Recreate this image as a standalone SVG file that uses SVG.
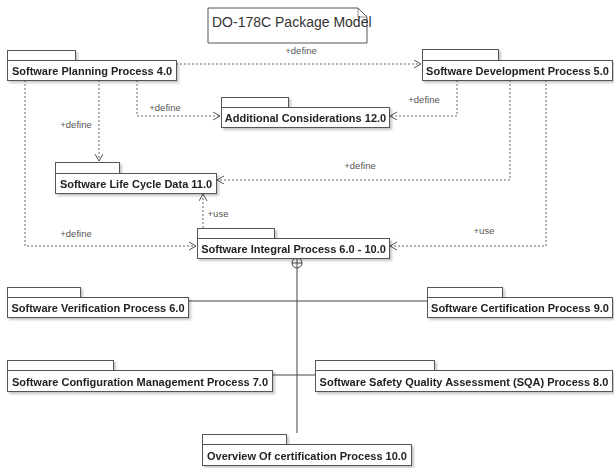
<svg xmlns="http://www.w3.org/2000/svg" width="614" height="468" viewBox="0 0 614 468">
<defs>
<filter id="sh" x="-5%" y="-20%" width="115%" height="160%">
<feDropShadow dx="2" dy="2" stdDeviation="1" flood-color="#000" flood-opacity="0.22"/>
</filter>
<marker id="open" markerWidth="10" markerHeight="10" refX="7" refY="4" orient="auto" markerUnits="userSpaceOnUse">
<path d="M0,0 L7,4 L0,8" fill="none" stroke="#555" stroke-width="1"/>
</marker>
</defs>
<style>
.pk{fill:#fff;stroke:#555;stroke-width:1}
.nm{font-family:"Liberation Sans",Arial,sans-serif;font-size:11px;font-weight:bold;fill:#222;text-anchor:middle}
.dep{fill:none;stroke:#666;stroke-width:1;stroke-dasharray:2,2;marker-end:url(#open)}
.lbl{font-family:"Liberation Sans",Arial,sans-serif;font-size:9.5px;fill:#555;text-anchor:middle}
.sol{fill:none;stroke:#444;stroke-width:1}
</style>
<rect width="614" height="468" fill="#fff"/>

<g id="note">
<path class="pk" d="M208,8 H358 L367,17 V43 H208 Z"/>
<path d="M358,8 V17 H367" fill="none" stroke="#777" stroke-width="0.8"/>
<text x="212" y="27" font-family="Liberation Sans, Arial, sans-serif" font-size="14" fill="#333">DO-178C Package Model</text>
</g>

<g id="connectors">
<path class="dep" d="M176,64 H421"/>
<path class="dep" d="M137,80 V116 H220"/>
<path class="dep" d="M457,80 V116 H390"/>
<path class="dep" d="M99,80 V161"/>
<path class="dep" d="M510,80 V180 H217"/>
<path class="dep" d="M25,80 V246 H196"/>
<path class="dep" d="M546,80 V246 H390"/>
<path class="dep" d="M203,228 V194"/>
<circle cx="297" cy="263" r="5" fill="#fff" stroke="#444" stroke-width="1"/>
<path class="sol" d="M292,263 H302 M297,258 V268"/>
<path class="sol" d="M297,268 V433"/>
<path class="sol" d="M188,301 H427"/>
<path class="sol" d="M273,375 H315"/>
<text class="lbl" x="301" y="54">+define</text>
<text class="lbl" x="165" y="111">+define</text>
<text class="lbl" x="424" y="103">+define</text>
<text class="lbl" x="76" y="128">+define</text>
<text class="lbl" x="360" y="169">+define</text>
<text class="lbl" x="76" y="237">+define</text>
<text class="lbl" x="484" y="234">+use</text>
<text class="lbl" x="218" y="217">+use</text>
</g>

<g id="planning" filter="url(#sh)">
<rect class="pk" x="7.5" y="50.5" width="68" height="10"/>
<rect class="pk" x="7.5" y="60.5" width="169" height="20"/>
<text class="nm" x="92" y="75">Software Planning Process 4.0</text>
</g>

<g id="development" filter="url(#sh)">
<rect class="pk" x="422.5" y="49.5" width="76" height="11"/>
<rect class="pk" x="422.5" y="60.5" width="190" height="20"/>
<text class="nm" x="517.5" y="75">Software Development Process 5.0</text>
</g>

<g id="additional" filter="url(#sh)">
<rect class="pk" x="221.5" y="97.5" width="67" height="10"/>
<rect class="pk" x="221.5" y="107.5" width="168" height="20"/>
<text class="nm" x="305.5" y="122">Additional Considerations 12.0</text>
</g>

<g id="lifecycle" filter="url(#sh)">
<rect class="pk" x="55.5" y="162.5" width="64" height="11"/>
<rect class="pk" x="55.5" y="173.5" width="161" height="20"/>
<text class="nm" x="136" y="188">Software Life Cycle Data 11.0</text>
</g>

<g id="integral" filter="url(#sh)">
<rect class="pk" x="197.5" y="228.5" width="77" height="10"/>
<rect class="pk" x="197.5" y="238.5" width="192" height="20"/>
<text class="nm" x="293.5" y="253">Software Integral Process 6.0 - 10.0</text>
</g>

<g id="verification" filter="url(#sh)">
<rect class="pk" x="7.5" y="287.5" width="73" height="10"/>
<rect class="pk" x="7.5" y="297.5" width="181" height="20"/>
<text class="nm" x="98" y="312">Software Verification Process 6.0</text>
</g>

<g id="certification" filter="url(#sh)">
<rect class="pk" x="427.5" y="287.5" width="75" height="10"/>
<rect class="pk" x="427.5" y="297.5" width="185" height="20"/>
<text class="nm" x="520" y="312">Software Certification Process 9.0</text>
</g>

<g id="configuration" filter="url(#sh)">
<rect class="pk" x="7.5" y="360.5" width="106" height="10"/>
<rect class="pk" x="7.5" y="370.5" width="265" height="21"/>
<text class="nm" x="140" y="385.5">Software Configuration Management Process 7.0</text>
</g>

<g id="sqa" filter="url(#sh)">
<rect class="pk" x="315.5" y="360.5" width="119" height="10"/>
<rect class="pk" x="315.5" y="370.5" width="297" height="21"/>
<text class="nm" x="464" y="385.5">Software Safety Quality Assessment (SQA) Process 8.0</text>
</g>

<g id="overview" filter="url(#sh)">
<rect class="pk" x="202.5" y="434.5" width="84" height="10"/>
<rect class="pk" x="202.5" y="444.5" width="209" height="21"/>
<text class="nm" x="307" y="459.5">Overview Of certification Process 10.0</text>
</g>
</svg>
